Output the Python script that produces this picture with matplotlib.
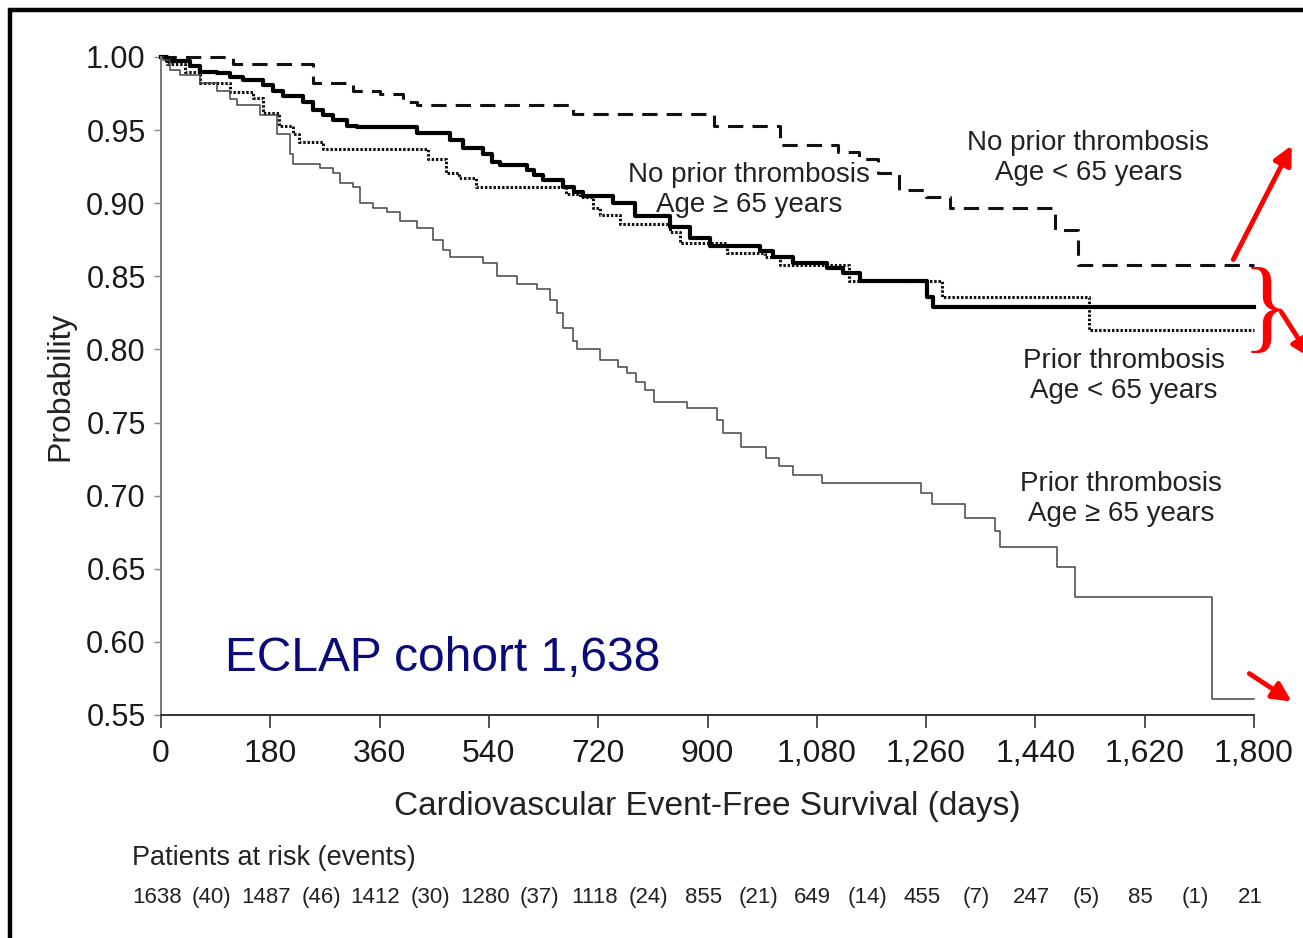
import matplotlib
matplotlib.use('Agg')
import matplotlib.pyplot as plt
from matplotlib.patches import Rectangle, FancyArrowPatch
from matplotlib.ticker import FuncFormatter

plt.rcParams['font.family'] = ['Liberation Sans', 'DejaVu Sans']

# Kaplan-Meier steps: day of each step and survival from that day on
days_np_young = [0, 119, 250, 316, 361, 399, 421, 679, 910, 1020, 1115, 1150,
                 1180, 1215, 1260, 1300, 1472, 1510, 1800]
surv_np_young = [1.0, 0.995, 0.982, 0.977, 0.975, 0.969, 0.967, 0.961, 0.953,
                 0.940, 0.935, 0.930, 0.921, 0.909, 0.904, 0.897, 0.882, 0.858,
                 0.858]

days_np_old = [0, 10, 48, 64, 92, 114, 135, 168, 184, 201, 234, 250, 267, 283,
               306, 322, 421, 476, 497, 531, 545, 558, 602, 615, 629, 662, 680,
               695, 745, 780, 838, 871, 904, 986, 1008, 1041, 1097, 1123, 1151,
               1261, 1271, 1800]
surv_np_old = [1.0, 0.997, 0.994, 0.990, 0.989, 0.986, 0.984, 0.981, 0.977,
               0.973, 0.969, 0.964, 0.960, 0.957, 0.953, 0.952, 0.948, 0.943,
               0.938, 0.934, 0.928, 0.926, 0.923, 0.919, 0.916, 0.911, 0.908,
               0.905, 0.900, 0.891, 0.884, 0.876, 0.871, 0.867, 0.863, 0.859,
               0.856, 0.852, 0.847, 0.836, 0.829, 0.829]

days_pt_young = [0, 10, 40, 64, 114, 151, 168, 195, 217, 228, 266, 440, 470,
                 490, 518, 667, 690, 712, 723, 756, 838, 855, 932, 995, 1019,
                 1133, 1286, 1528, 1800]
surv_pt_young = [1.0, 0.995, 0.990, 0.982, 0.976, 0.972, 0.962, 0.953, 0.947,
                 0.942, 0.937, 0.930, 0.921, 0.917, 0.911, 0.906, 0.904, 0.897,
                 0.892, 0.886, 0.880, 0.873, 0.866, 0.863, 0.858, 0.847, 0.836,
                 0.813, 0.813]

days_pt_old = [0, 3, 15, 31, 64, 92, 114, 125, 163, 191, 212, 217, 262, 283,
               295, 316, 328, 349, 372, 394, 421, 448, 464, 476, 530, 553, 586,
               619, 641, 652, 662, 679, 685, 723, 753, 767, 782, 797, 812, 866,
               916, 926, 955, 996, 1018, 1041, 1089, 1252, 1270, 1324, 1373,
               1382, 1476, 1505, 1731, 1800]
surv_pt_old = [1.0, 0.998, 0.991, 0.988, 0.982, 0.977, 0.971, 0.967, 0.960,
               0.947, 0.934, 0.927, 0.924, 0.921, 0.914, 0.911, 0.900, 0.897,
               0.894, 0.888, 0.883, 0.875, 0.868, 0.863, 0.859, 0.850, 0.845,
               0.841, 0.834, 0.825, 0.815, 0.806, 0.800, 0.793, 0.788, 0.784,
               0.778, 0.772, 0.764, 0.760, 0.752, 0.743, 0.733, 0.726, 0.720,
               0.714, 0.709, 0.702, 0.694, 0.685, 0.676, 0.665, 0.651, 0.631,
               0.561, 0.561]

tick_days = [0, 180, 360, 540, 720, 900, 1080, 1260, 1440, 1620, 1800]
at_risk = [1638, 1487, 1412, 1280, 1118, 855, 649, 455, 247, 85, 21]
events = [40, 46, 30, 37, 24, 21, 14, 7, 5, 1]

W, H = 1303, 938
fig = plt.figure(figsize=(W / 100, H / 100), dpi=100)
fig.patch.set_facecolor('white')

def fx(px):
    return px / W

def fy(py):
    return 1 - py / H

ax = fig.add_axes([fx(161), fy(715), fx(1254) - fx(161), fy(57) - fy(715)])
ax.set_xlim(0, 1800)
ax.set_ylim(0.55, 1.00)

ax.step(days_np_young, surv_np_young, where='post', color='#111111', lw=2.2,
        linestyle=(0, (5, 3)), clip_on=False)
ax.step(days_pt_young, surv_pt_young, where='post', color='#111111', lw=2.2,
        linestyle=(0, (0.8, 0.6)), clip_on=False)
ax.step(days_np_old, surv_np_old, where='post', color='#000000', lw=3.0,
        clip_on=False)
ax.step(days_pt_old, surv_pt_old, where='post', color='#444444', lw=1.1,
        clip_on=False)

for side in ['top', 'right']:
    ax.spines[side].set_visible(False)
ax.spines['left'].set_color('#777777')
ax.spines['left'].set_linewidth(1.4)
ax.spines['bottom'].set_color('#333333')
ax.spines['bottom'].set_linewidth(1.4)

ax.set_xticks(tick_days)
ax.set_yticks([0.55 + 0.05 * i for i in range(10)])
ax.xaxis.set_major_formatter(FuncFormatter(lambda v, p: f'{int(v):,}'))
ax.yaxis.set_major_formatter(FuncFormatter(lambda v, p: f'{v:.2f}'))
ax.tick_params(axis='x', length=9, width=1.2, color='#333333', pad=8,
               labelsize=23, labelcolor='#1a1a1a')
ax.tick_params(axis='y', length=5, width=1.0, color='#888888', pad=6,
               labelsize=22, labelcolor='#1a1a1a')

ax.set_xlabel('Cardiovascular Event-Free Survival (days)', fontsize=24,
              color='#222222', labelpad=16)
ax.set_ylabel('Probability', fontsize=23, color='#222222', labelpad=8)

txt = dict(fontsize=20, color='#222222', ha='center', va='center',
           linespacing=1.2)
ax.text(968, 0.909, 'No prior thrombosis\nAge \u2265 65 years', **txt)
ax.text(1527, 0.931, 'No prior thrombosis\nAge < 65 years', **txt)
ax.text(1586, 0.782, 'Prior thrombosis\nAge < 65 years', **txt)
ax.text(1581, 0.698, 'Prior thrombosis\nAge \u2265 65 years', **txt)

ax.text(fx(225), fy(658), 'ECLAP cohort 1,638', transform=fig.transFigure,
        fontsize=34.5, color='#0a0a78', ha='left', va='center')

# patients at risk table under the axis
fig.text(fx(132), fy(858), 'Patients at risk (events)', fontsize=19.5,
         color='#222222', ha='left', va='center')
row_y = fy(897)
for d, n in zip(tick_days, at_risk):
    fig.text(fx(157 + d * 1093 / 1800), row_y, str(n), fontsize=16,
             color='#222222', ha='center', va='center')
for i, e in enumerate(events):
    mid = (tick_days[i] + tick_days[i + 1]) / 2
    fig.text(fx(157 + mid * 1093 / 1800), row_y, f'({e})', fontsize=16,
             color='#222222', ha='center', va='center')

# red markers on the right edge
red = '#ff0000'
fig.add_artist(FancyArrowPatch((fx(1232), fy(262)), (fx(1293), fy(143)),
                               transform=fig.transFigure, arrowstyle='-|>',
                               mutation_scale=28, color=red, lw=3.5))
fig.text(fx(1266), fy(314), '}', fontsize=74, color=red, ha='center',
         va='center', family=['Liberation Serif', 'DejaVu Serif'])
fig.add_artist(FancyArrowPatch((fx(1280), fy(310)), (fx(1312), fy(360)),
                               transform=fig.transFigure, arrowstyle='-|>',
                               mutation_scale=28, color=red, lw=3.5))
fig.add_artist(FancyArrowPatch((fx(1247), fy(672)), (fx(1294), fy(703)),
                               transform=fig.transFigure, arrowstyle='-|>',
                               mutation_scale=28, color=red, lw=3.5))

# black frame, open on the right and bottom
fig.add_artist(Rectangle((fx(10), fy(960)), fx(1340), fy(10) - fy(960),
                         transform=fig.transFigure, fill=False,
                         edgecolor='black', lw=3.2))

fig.savefig('out.png', dpi=100, facecolor='white')
